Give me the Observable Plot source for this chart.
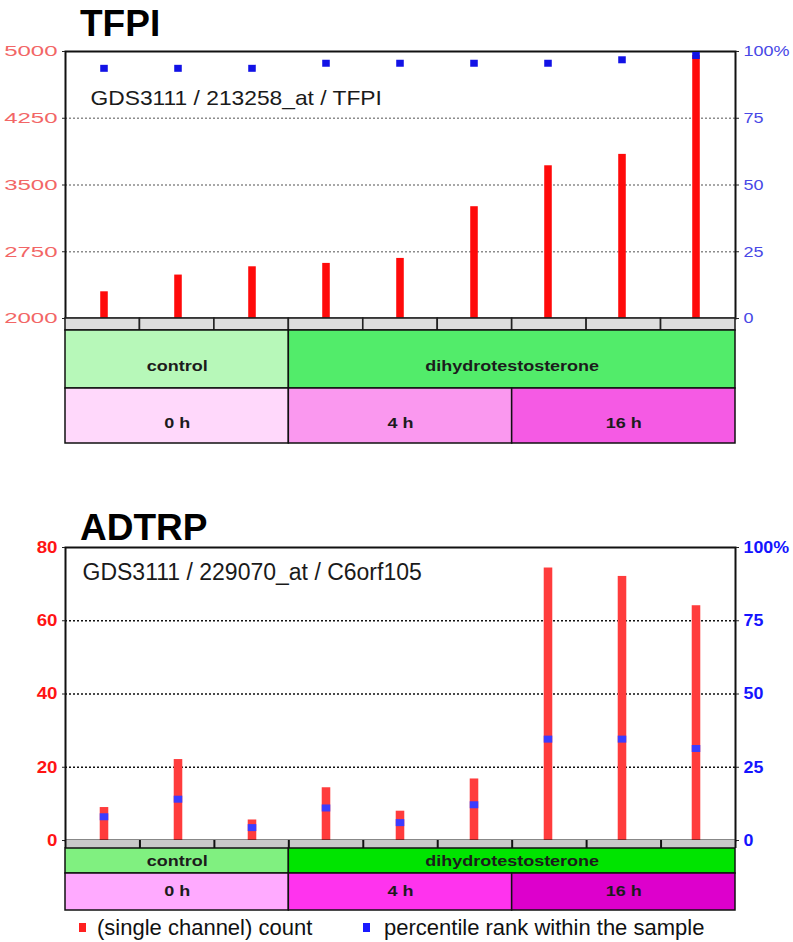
<!DOCTYPE html>
<html><head><meta charset="utf-8">
<script src="https://cdn.jsdelivr.net/npm/d3@7"></script>
<script src="https://cdn.jsdelivr.net/npm/@observablehq/plot@0.6"></script>
<style>
body{margin:0;background:#fff;}
#root{position:relative;width:793px;height:942px;overflow:hidden;font-family:"Liberation Sans",Arial,sans-serif;}
#root svg{position:absolute;left:0;overflow:visible;}
.title{position:absolute;left:80px;font-weight:bold;font-size:37px;line-height:37px;color:#000;white-space:nowrap;}
.leg{position:absolute;font-size:22px;line-height:22px;color:#111;white-space:nowrap;}
.sw{position:absolute;width:7px;height:9px;}
</style></head><body><div id="root"></div>
<script>
// ---------- data ----------
const samples = ["GSM1","GSM2","GSM3","GSM4","GSM5","GSM6","GSM7","GSM8","GSM9"];
const agent = ["control","control","control","dihydrotestosterone","dihydrotestosterone","dihydrotestosterone","dihydrotestosterone","dihydrotestosterone","dihydrotestosterone"];
const timeP = ["0 h","0 h","0 h","4 h","4 h","4 h","16 h","16 h","16 h"];

const tfpiCount = [2300, 2488, 2581, 2619, 2675, 3256, 3716, 3844, 4955];
const tfpiRank  = [93.7, 93.7, 93.7, 95.6, 95.6, 95.6, 95.6, 96.9, 98.5];
const adtrpCount = [9.0, 22.1, 5.6, 14.4, 8.0, 16.8, 74.4, 72.1, 64.1];
const adtrpRank  = [8.1, 14.1, 4.4, 11.1, 6.1, 12.2, 34.6, 34.6, 31.4];

const tfpiTicks = [2000, 2750, 3500, 4250, 5000];
const adtrpTicks = [0, 20, 40, 60, 80];
const rankTicks = [0, 25, 50, 75, 100];

const tfpiNote = "GDS3111 / 213258_at / TFPI";
const adtrpNote = "GDS3111 / 229070_at / C6orf105";
const legendLabels = ["(single channel) count", "percentile rank within the sample"];

// ---------- layout ----------
const W = 793, ML = 65, MR = 58;
const BW = (W - ML - MR) / samples.length;
const FONT = "Liberation Sans, Arial, sans-serif";
const root = document.getElementById("root");

function runs(arr){
  const out = [];
  arr.forEach((v,i)=>{
    if (out.length && out[out.length-1].label === v) out[out.length-1].end = i+1;
    else out.push({label:v, start:i, end:i+1});
  });
  return out;
}
function place(svg, top){ svg.style.top = top + "px"; root.appendChild(svg); return svg; }
function stretch(svg, sel, sx){
  d3.select(svg).selectAll(sel).each(function(){
    const t = this.getAttribute("transform");
    if (t) this.setAttribute("transform", t + ` scale(${sx},1)`);
    else {
      const x = parseFloat(this.getAttribute("x") || 0);
      this.setAttribute("transform", `translate(${x},0) scale(${sx},1) translate(${-x},0)`);
    }
  });
}
const rankFmt = d => d === 100 ? "100%" : String(d);

function panel(cfg){
  const data = samples.map((s,i)=>({sample:s, count:cfg.count[i], rank:cfg.rank[i]}));
  const inset = (BW - cfg.barW)/2;
  const countSvg = Plot.plot({
    width: W, height: cfg.height, marginLeft: ML, marginRight: MR,
    marginTop: cfg.mt, marginBottom: cfg.mb,
    style: {background:"transparent", fontFamily: FONT, overflow:"visible"},
    x: {type:"band", domain: samples, padding: 0, axis: null},
    y: {domain: [cfg.ticks[0], cfg.ticks[cfg.ticks.length-1]], axis: null},
    marks: [
      Plot.gridY(cfg.ticks.slice(1,-1), {stroke: cfg.gridColor, strokeOpacity: 1, strokeDasharray: "2,2", strokeWidth: 1.3}),
      Plot.barY(data, {x:"sample", y1: cfg.ticks[0], y2:"count", fill: cfg.barColor, insetLeft: inset, insetRight: inset}),
      Plot.text([cfg.note], {frameAnchor:"top-left", textAnchor:"start", lineAnchor:"top", dx: cfg.noteDx, dy: cfg.noteDy, fontSize: cfg.noteSize, fill:"#1a1a1a"}),
      Plot.frame({stroke:"#111", strokeWidth: 2}),
      Plot.axisY(cfg.ticks, {anchor:"left", label: null, tickSize: 3, tickPadding: 5, fill: cfg.leftColor, stroke:"#222", fontSize: cfg.labelSize, fontWeight: cfg.labelWeight, tickFormat: d => String(d)})
    ]
  });
  place(countSvg, cfg.top);
  stretch(countSvg, 'g[aria-label="y-axis tick label"] text', cfg.leftSx);
  stretch(countSvg, 'g[aria-label="text"] text', cfg.noteSx);

  const rankSvg = Plot.plot({
    width: W, height: cfg.height, marginLeft: ML, marginRight: MR,
    marginTop: cfg.mt, marginBottom: cfg.mb,
    style: {background:"transparent", fontFamily: FONT, overflow:"visible"},
    x: {type:"band", domain: samples, padding: 0, axis: null},
    y: {domain: [0, 100], axis: null},
    marks: [
      Plot.tickY(data, {x:"sample", y:"rank", stroke: cfg.rankColor, strokeWidth: 7, insetLeft: inset, insetRight: inset}),
      Plot.axisY(rankTicks, {anchor:"right", label: null, tickSize: 3, tickPadding: 5, fill: cfg.rightColor, stroke:"#222", fontSize: cfg.labelSize, fontWeight: cfg.labelWeight, tickFormat: rankFmt})
    ]
  });
  place(rankSvg, cfg.top);
  stretch(rankSvg, 'g[aria-label="y-axis tick label"] text', cfg.rightSx);

  // sample strip
  const idx = samples.map((d,i)=>i);
  const stripMarks = cfg.stripStyle === "boxes"
    ? [Plot.rect(idx, {x1: d=>d, x2: d=>d+1, fill:"#dedede", stroke:"#222", strokeWidth: 1.6})]
    : [Plot.rect(idx, {x1: d=>d, x2: d=>d+1, fill:"#c9c9c9"}),
       Plot.ruleX([...idx, samples.length], {stroke:"#111", strokeWidth: 2})];
  const strip = Plot.plot({
    width: W, height: cfg.stripH, marginLeft: ML, marginRight: MR, marginTop: 0, marginBottom: 0,
    style: {background:"transparent", overflow:"visible"},
    x: {domain:[0, samples.length], axis:null}, y:{axis:null},
    marks: stripMarks
  });
  place(strip, cfg.top + cfg.height - cfg.mb);

  // annotation rows
  let y0 = cfg.top + cfg.height - cfg.mb + cfg.stripH;
  [[agent, cfg.agentColors, cfg.agentH, cfg.agentDy], [timeP, cfg.timeColors, cfg.timeH, cfg.timeDy]].forEach(([arr, colors, h, dy])=>{
    const rr = runs(arr);
    const row = Plot.plot({
      width: W, height: h, marginLeft: ML, marginRight: MR, marginTop: 0, marginBottom: 0,
      style: {background:"transparent", fontFamily: FONT, overflow:"visible"},
      x: {domain:[0, samples.length], axis:null}, y:{axis:null},
      color: {domain: rr.map(d=>d.label), range: colors},
      marks: [
        Plot.rect(rr, {x1:"start", x2:"end", fill:"label", stroke:"#111", strokeWidth: 1.5}),
        Plot.text(rr, {x: d=>(d.start+d.end)/2, text:"label", frameAnchor:"middle", dy, fontSize: 15, fontWeight:"bold", fill:"#1c1c1c"})
      ]
    });
    place(row, y0);
    stretch(row, 'g[aria-label="text"] text', 1.2);
    y0 += h;
  });
}

// titles
function title(txt, top){ const d = document.createElement("div"); d.className="title"; d.style.top = top+"px"; d.textContent = txt; root.appendChild(d); }
title("TFPI", 5);
title("ADTRP", 509);

panel({
  count: tfpiCount, rank: tfpiRank, ticks: tfpiTicks,
  top: 0, height: 330, mt: 51, mb: 12,
  barW: 8, barColor:"#ff0a0a", rankColor:"#1212e6", gridColor:"#8c8c8c",
  leftColor:"#f26666", rightColor:"#4848e6", labelSize: 15, labelWeight: "normal",
  leftSx: 1.6, rightSx: 1.2,
  note: tfpiNote, noteDx: 25, noteDy: 39, noteSize: 20, noteSx: 1.14,
  stripStyle: "boxes", stripH: 12, agentH: 58, timeH: 55, agentDy: 7, timeDy: 7,
  agentColors: ["#b7f8b9", "#52ec6a"], timeColors: ["#ffd8fb", "#fa98ef", "#f55ae4"]
});

panel({
  count: adtrpCount, rank: adtrpRank, ticks: adtrpTicks,
  top: 496, height: 352, mt: 51, mb: 8,
  barW: 9, barColor:"#ff3c3c", rankColor:"#3c3cff", gridColor:"#111",
  leftColor:"#ff1414", rightColor:"#1414ff", labelSize: 17, labelWeight: "bold",
  leftSx: 1.1, rightSx: 1.05,
  note: adtrpNote, noteDx: 17, noteDy: 16, noteSize: 23, noteSx: 1.0,
  stripStyle: "ticks", stripH: 8, agentH: 25, timeH: 37, agentDy: 0, timeDy: -1,
  agentColors: ["#80f080", "#00e400"], timeColors: ["#ffaaff", "#ff33ee", "#dd00cc"]
});

// legend
function leg(txt, left, color, swLeft){
  const s = document.createElement("div"); s.className="sw"; s.style.left = swLeft+"px"; s.style.top = "923px"; s.style.background = color; root.appendChild(s);
  const d = document.createElement("div"); d.className="leg"; d.style.left = left+"px"; d.style.top = "917px"; d.textContent = txt; root.appendChild(d);
}
leg(legendLabels[0], 97, "#ff2020", 79);
leg(legendLabels[1], 384, "#1a1aff", 363);
</script></body></html>
